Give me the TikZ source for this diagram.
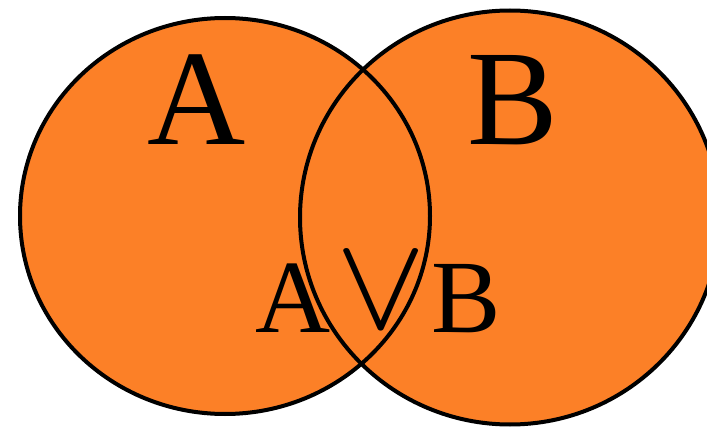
\documentclass[tikz,border=0pt]{standalone}
\usepackage{fontspec}
\setmainfont{Liberation Serif}
\definecolor{vennorange}{RGB}{252,128,39}
\begin{document}
\begin{tikzpicture}[x=1pt,y=1pt,
  setfill/.style={fill=vennorange},
  setline/.style={draw=black,line width=4pt},
  biglabel/.style={inner sep=0pt,anchor=base,font=\fontsize{136}{136}\selectfont},
  midlabel/.style={inner sep=0pt,anchor=base,font=\fontsize{104}{104}\selectfont}]
\useasboundingbox (0,0) rectangle (707,429);
\begin{scope}
\clip (0,0) rectangle (707,429);
\fill[setfill] (225,213) ellipse [x radius=205, y radius=198];
\fill[setfill] (510,211.5) ellipse [x radius=210, y radius=207];
\draw[setline] (225,213) ellipse [x radius=205, y radius=198];
\draw[setline] (510,211.5) ellipse [x radius=210, y radius=207];
\end{scope}
\node[biglabel] (a) at (197,284) {A};
\node[biglabel] (b) at (513,284) {B};
\node[midlabel] (ab) at (378,97) {A\hspace{9pt}\raisebox{6pt}{\scalebox{7.5}[5.9]{$\displaystyle\bigvee$}}\hspace{9pt}B};
\end{tikzpicture}
\end{document}
